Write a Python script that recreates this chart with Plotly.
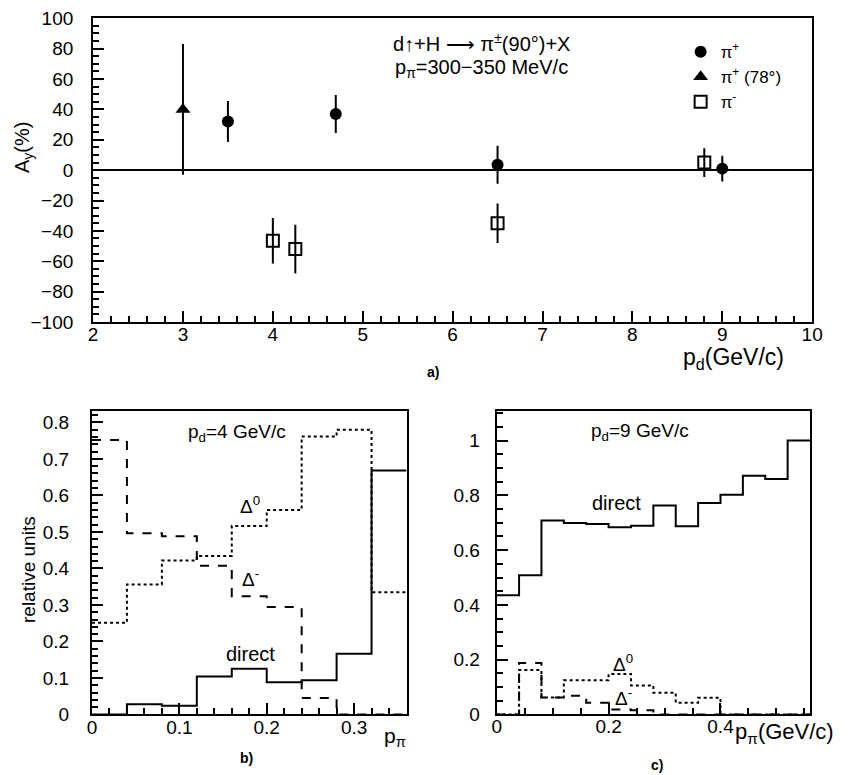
import plotly.graph_objects as go

# ---------- Panel a data ----------
pd_pip = [3.5, 4.7, 6.5, 9.0]
ay_pip = [32, 37, 3.5, 1]
err_pip = [13.5, 12.5, 12.5, 8.5]

pd_pip78 = [3.0]
ay_pip78 = [40]
err_pip78 = [43]

pd_pim = [4.0, 4.25, 6.5, 8.8]
ay_pim = [-46.5, -52, -35, 5]
err_pim = [15, 16, 13, 9.5]

# ---------- Panel b data (pd = 4 GeV/c) ----------
b_edges = [0, 0.04, 0.08, 0.12, 0.16, 0.20, 0.24, 0.28, 0.32, 0.36]
b_direct = [0.0, 0.028, 0.024, 0.104, 0.125, 0.088, 0.094, 0.166, 0.668]
b_delm = [0.752, 0.496, 0.488, 0.407, 0.324, 0.294, 0.045, 0.0, 0.0]
b_del0 = [0.251, 0.356, 0.422, 0.434, 0.516, 0.560, 0.761, 0.780, 0.335]

# ---------- Panel c data (pd = 9 GeV/c) ----------
c_edges = [0, 0.04, 0.08, 0.12, 0.16, 0.20, 0.24, 0.28, 0.32, 0.36, 0.40, 0.44, 0.48, 0.52, 0.56]
c_direct = [0.435, 0.508, 0.708, 0.699, 0.695, 0.683, 0.689, 0.763, 0.687, 0.772, 0.802, 0.871, 0.860, 1.0]
c_delm = [0.0, 0.188, 0.062, 0.068, 0.043, 0.018, 0.015, 0.0, 0.0, 0.0, 0.0, 0.0, 0.0, 0.0]
c_del0 = [0.0, 0.162, 0.062, 0.125, 0.125, 0.148, 0.106, 0.079, 0.043, 0.061, 0.0, 0.0, 0.0, 0.0]

FONT = "Liberation Sans, Arial, sans-serif"
BLACK = "black"

fig = go.Figure()

def eb(vals):
    return dict(type="data", array=vals, visible=True, thickness=2, width=0, color=BLACK)

fig.add_trace(go.Scatter(x=pd_pip, y=ay_pip, mode="markers", name="π<sup>+</sup>",
                         marker=dict(symbol="circle", size=12, color=BLACK),
                         error_y=eb(err_pip), xaxis="x", yaxis="y"))
fig.add_trace(go.Scatter(x=pd_pip78, y=ay_pip78, mode="markers", name="π<sup>+</sup> (78°)",
                         marker=dict(symbol="triangle-up", size=13, color=BLACK),
                         error_y=eb(err_pip78), xaxis="x", yaxis="y"))
fig.add_trace(go.Scatter(x=pd_pim, y=ay_pim, mode="markers", name="π<sup>-</sup>",
                         marker=dict(symbol="square-open", size=12, color=BLACK, line=dict(width=2, color=BLACK)),
                         error_y=eb(err_pim), xaxis="x", yaxis="y"))

def step(edges, vals, dash, xa, ya):
    fig.add_trace(go.Scatter(x=edges, y=vals + [vals[-1]], mode="lines", line_shape="hv",
                             line=dict(color=BLACK, width=2, dash=dash), showlegend=False,
                             xaxis=xa, yaxis=ya, hoverinfo="skip"))

step(b_edges, b_direct, "solid", "x2", "y2")
step(b_edges, b_delm, "dash", "x2", "y2")
step(b_edges, b_del0, "dot", "x2", "y2")

step(c_edges, c_direct, "solid", "x3", "y3")
step(c_edges, c_delm, "dash", "x3", "y3")
step(c_edges, c_del0, "dot", "x3", "y3")

tickfont = dict(family=FONT, size=19, color=BLACK)
common = dict(showline=True, linewidth=2, linecolor=BLACK, mirror=True, ticks="inside",
              tickwidth=2, tickcolor=BLACK, showgrid=False, zeroline=False, tickfont=tickfont,
              automargin=False)

fig.update_layout(
    width=854, height=775, margin=dict(l=0, r=0, t=0, b=0, pad=0, autoexpand=False),
    paper_bgcolor="white", plot_bgcolor="white",
    font=dict(family=FONT, color=BLACK),
    xaxis=dict(domain=[0.109, 0.951], range=[2, 10], dtick=1, ticklen=11, anchor="y",
               minor=dict(ticks="inside", dtick=0.2, ticklen=6, tickwidth=1.5, tickcolor=BLACK),
               ticklabelstandoff=-6, **common),
    yaxis=dict(domain=[0.5845, 0.9764], range=[-100, 100], dtick=20, ticklen=11, anchor="x",
               minor=dict(ticks="inside", dtick=5, ticklen=6, tickwidth=1.5, tickcolor=BLACK),
               ticklabelstandoff=14, **{**common, "zeroline": True}, zerolinewidth=2, zerolinecolor=BLACK),
    xaxis2=dict(domain=[0.1077, 0.476], range=[0, 0.36], tickvals=[0, 0.1, 0.2, 0.3],
                ticktext=["0", "0.1", "0.2", "0.3"], ticklen=11, anchor="y2",
                minor=dict(ticks="inside", dtick=0.02, ticklen=6, tickwidth=1.5, tickcolor=BLACK),
                ticklabelstandoff=-5, **common),
    yaxis2=dict(domain=[0.0781, 0.4701], range=[0, 0.832], dtick=0.1, ticklen=11, anchor="x2",
                minor=dict(ticks="inside", dtick=0.02, ticklen=6, tickwidth=1.5, tickcolor=BLACK),
                ticklabelstandoff=17, **common),
    xaxis3=dict(domain=[0.5816, 0.9485], range=[0, 0.56], tickvals=[0, 0.2, 0.4],
                ticktext=["0", "0.2", "0.4"], ticklen=11, anchor="y3",
                minor=dict(ticks="inside", dtick=0.05, ticklen=6, tickwidth=1.5, tickcolor=BLACK),
                ticklabelstandoff=-6, **common),
    yaxis3=dict(domain=[0.0781, 0.4701], range=[0, 1.109], tickvals=[0, 0.2, 0.4, 0.6, 0.8, 1],
                ticktext=["0", "0.2", "0.4", "0.6", "0.8", "1"], ticklen=11, anchor="x3",
                minor=dict(ticks="inside", dtick=0.05, ticklen=6, tickwidth=1.5, tickcolor=BLACK),
                ticklabelstandoff=11, **common),
    showlegend=True,
    legend=dict(x=0.797, y=0.956, xanchor="left", yanchor="top", bgcolor="rgba(0,0,0,0)",
                font=dict(family=FONT, size=17, color=BLACK), itemwidth=30, tracegroupgap=0),
)

def ann(text, x, y, size=19, angle=0, xanchor="center"):
    fig.add_annotation(text=text, x=x / 854, y=1 - y / 775, xref="paper", yref="paper",
                       showarrow=False, font=dict(family=FONT, size=size, color=BLACK),
                       textangle=angle, xanchor=xanchor, yanchor="middle")

# Panel a texts
ann("d↑+H ⟶ π<sup>±</sup>(90°)+X", 482, 42, size=20)
ann("p<sub>π</sub>=300−350 MeV/c", 482, 68, size=20)
ann("A<sub>y</sub>(%)", 24, 148, size=20, angle=-90)
ann("p<sub>d</sub>(GeV/c)", 733, 359, size=23)
ann("<b>a)</b>", 433, 372, size=14)

# Panel b texts
ann("p<sub>d</sub>=4 GeV/c", 237, 433, size=19)
ann("Δ<sup>0</sup>", 250, 505, size=19)
ann("Δ<sup>-</sup>", 250, 578, size=19)
ann("direct", 250, 654, size=20)
ann("relative units", 28, 570, size=19, angle=-90)
ann("p<sub>π</sub>", 395, 737, size=21)
ann("<b>b)</b>", 246, 758, size=14)

# Panel c texts
ann("p<sub>d</sub>=9 GeV/c", 640, 432, size=19)
ann("direct", 616, 503, size=20)
ann("Δ<sup>0</sup>", 623, 663, size=19)
ann("Δ<sup>-</sup>", 623, 697, size=19)
ann("p<sub>π</sub>(GeV/c)", 733, 733, size=22, xanchor="left")
ann("<b>c)</b>", 657, 765, size=14)

fig.write_html("out.html")
